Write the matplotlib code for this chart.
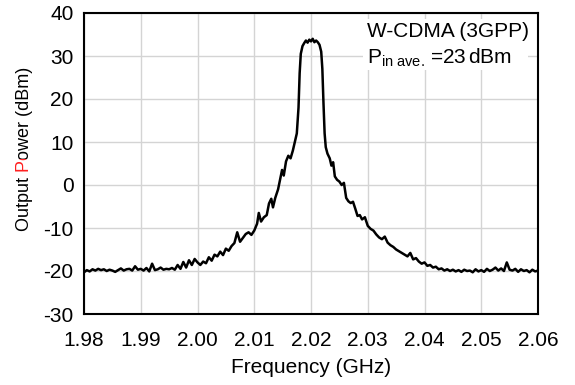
import matplotlib
matplotlib.use("Agg")
from matplotlib import pyplot as plt
from matplotlib.transforms import Bbox
from matplotlib.patches import Rectangle

plt.rcParams["font.family"] = ["Liberation Sans", "DejaVu Sans"]
plt.rcParams["axes.unicode_minus"] = False
plt.rcParams["mathtext.fontset"] = "custom"
plt.rcParams["mathtext.rm"] = "Liberation Sans"
plt.rcParams["mathtext.it"] = "Liberation Sans:italic"
plt.rcParams["mathtext.bf"] = "Liberation Sans:bold"

# spectrum
freq_ghz = [
    1.9800, 1.9805, 1.9810, 1.9815, 1.9820, 1.9825, 1.9830, 1.9835, 1.9840, 1.9845,
    1.9850, 1.9855, 1.9860, 1.9865, 1.9870, 1.9875, 1.9880, 1.9885, 1.9890, 1.9895,
    1.9900, 1.9905, 1.9910, 1.9915, 1.9920, 1.9925, 1.9930, 1.9935, 1.9940, 1.9945,
    1.9950, 1.9955, 1.9960, 1.9965, 1.9970, 1.9975, 1.9980, 1.9985, 1.9990, 1.9995,
    2.0000, 2.0005, 2.0010, 2.0015, 2.0020, 2.0025, 2.0030, 2.0035, 2.0040, 2.0045,
    2.0050, 2.0055, 2.0060, 2.0065, 2.0070, 2.0075, 2.0080, 2.0085, 2.0090, 2.0095,
    2.0100, 2.0105, 2.0108, 2.0112, 2.0117, 2.0122, 2.0126, 2.0130, 2.0133, 2.0137,
    2.0142, 2.0146, 2.0149, 2.0152, 2.0156, 2.0160, 2.0164, 2.0168, 2.0172, 2.0175,
    2.0178, 2.0180, 2.0182, 2.0185, 2.0188, 2.0191, 2.0194, 2.0197, 2.0200, 2.0203,
    2.0206, 2.0209, 2.0212, 2.0215, 2.0218, 2.0220, 2.0222, 2.0224, 2.0226, 2.0229,
    2.0233, 2.0236, 2.0239, 2.0242, 2.0246, 2.0250, 2.0254, 2.0258, 2.0262, 2.0266,
    2.0270, 2.0274, 2.0278, 2.0282, 2.0286, 2.0290, 2.0295, 2.0300, 2.0305, 2.0310,
    2.0315, 2.0320, 2.0325, 2.0330, 2.0335, 2.0340, 2.0345, 2.0350, 2.0355, 2.0360,
    2.0365, 2.0370, 2.0375, 2.0380, 2.0385, 2.0390, 2.0395, 2.0400, 2.0405, 2.0410,
    2.0415, 2.0420, 2.0425, 2.0430, 2.0435, 2.0440, 2.0445, 2.0450, 2.0455, 2.0460,
    2.0465, 2.0470, 2.0475, 2.0480, 2.0485, 2.0490, 2.0495, 2.0500, 2.0505, 2.0510,
    2.0515, 2.0520, 2.0525, 2.0530, 2.0535, 2.0540, 2.0545, 2.0550, 2.0555, 2.0560,
    2.0565, 2.0570, 2.0575, 2.0580, 2.0585, 2.0590, 2.0595, 2.0600,
]
power_dbm = [
    -20.3, -19.8, -20.1, -19.6, -19.9, -19.5, -19.8, -19.6, -20.0, -19.7,
    -19.9, -20.2, -19.8, -19.4, -19.9, -19.6, -19.5, -19.9, -18.9, -19.7,
    -19.5, -19.9, -19.3, -20.1, -18.3, -19.8, -19.6, -19.2, -19.7, -19.5,
    -19.6, -19.3, -19.7, -18.6, -19.5, -17.9, -19.2, -17.5, -18.6, -17.2,
    -18.0, -18.6, -17.8, -18.2, -16.8, -17.6, -16.2, -16.6, -15.5, -16.3,
    -14.8, -15.3, -14.2, -13.5, -11.0, -13.2, -12.3, -11.4, -11.0, -11.6,
    -10.6, -9.0, -6.5, -8.5, -7.5, -7.0, -4.3, -3.2, -5.2, -3.0,
    -1.0, 1.5, 3.5, 2.2, 5.5, 6.8, 6.2, 8.0, 10.3, 12.0,
    18.0, 26.0, 30.5, 32.3, 33.0, 33.6, 33.1, 33.8, 33.4, 34.0,
    33.2, 33.6, 33.2, 32.6, 31.0, 27.0, 19.0, 12.0, 8.8, 7.3,
    6.2, 4.5, 5.3, 2.0, 1.2, 0.8, 0.0, 0.5, -3.0, -3.8,
    -4.2, -3.9, -5.5, -7.2, -7.0, -8.0, -7.5, -9.5, -10.2, -10.6,
    -11.5, -12.2, -12.6, -12.0, -13.4, -14.0, -14.4, -15.0, -15.4, -15.8,
    -16.2, -16.6, -15.8, -17.3, -17.0, -17.8, -18.3, -18.0, -18.8, -18.6,
    -19.2, -19.0, -19.6, -19.4, -19.9, -19.6, -20.0, -19.7, -20.1, -19.8,
    -20.2, -19.7, -20.0, -19.9, -20.3, -19.6, -20.1, -19.8, -20.2, -19.5,
    -20.0, -19.7, -19.2, -19.9, -19.4, -20.0, -18.0, -19.7, -19.9, -19.5,
    -20.2, -19.6, -20.0, -19.8, -20.3, -19.7, -20.1, -19.9,
]

x_ticks = [1.98, 1.99, 2.00, 2.01, 2.02, 2.03, 2.04, 2.05, 2.06]
y_ticks = [-30, -20, -10, 0, 10, 20, 30, 40]

FS = 15
FS_YLAB = 13

fig = plt.figure(figsize=(5.75, 3.85), dpi=100, facecolor="white")
ax = fig.add_axes([84 / 575, 1 - 314 / 385, 454 / 575, 301 / 385])

ax.plot(freq_ghz, power_dbm, color="black", lw=1.8, zorder=3)
ax.set_xlim(1.98, 2.06)
ax.set_ylim(-30, 40)
ax.set_xticks(x_ticks)
ax.set_xticklabels([f"{t:.2f}" for t in x_ticks])
ax.set_yticks(y_ticks)
ax.set_axisbelow(True)
ax.grid(True, color="#d4d4d4", lw=1.0)
ax.tick_params(axis="both", length=0, labelsize=FS)
ax.tick_params(axis="x", pad=12)
ax.tick_params(axis="y", pad=7.5)
for sp in ax.spines.values():
    sp.set_linewidth(1.5)

# white box behind the annotation hides the grid
ax.add_patch(Rectangle((0.6145, 0.811), 0.3635, 0.169, transform=ax.transAxes,
                       facecolor="white", edgecolor="none", zorder=1))
fig.text(367 / 575, 1 - 37 / 385, "W-CDMA (3GPP)", fontsize=FS, va="baseline")
fig.text(367 / 575, 1 - 64 / 385,
         r"P$_{\mathregular{in\ ave.}}$$\,$=23$\,$dBm",
         fontsize=FS, va="baseline")

fig.text(311 / 575, 1 - 373 / 385, "Frequency (GHz)", fontsize=FS,
         ha="center", va="baseline")

# y label with a red "P": same string drawn three times, each clipped
label = "Output Power (dBm)"
lx, ly = 29.5 / 575, 1 - 148.5 / 385
parts = []
for col in ("black", "#ff2020", "black"):
    t = fig.text(lx, ly, label, fontsize=FS_YLAB, rotation=90,
                 rotation_mode="anchor", ha="center", va="baseline", color=col)
    parts.append(t)

fig.canvas.draw()
renderer = fig.canvas.get_renderer()
full = parts[0].get_window_extent(renderer)


def text_width(s):
    tmp = fig.text(0, 0, s, fontsize=FS_YLAB)
    w = tmp.get_window_extent(renderer).width
    tmp.remove()
    return w


w_pre = text_width("Output")
w_p = text_width("Output P")
cut1 = full.y0 + w_pre + 2.5
cut2 = full.y0 + w_p + 0.7
x0, x1 = full.x0 - 5, full.x1 + 5
parts[0].set_clip_box(Bbox([[x0, full.y0 - 5], [x1, cut1]]))
parts[1].set_clip_box(Bbox([[x0, cut1], [x1, cut2]]))
parts[2].set_clip_box(Bbox([[x0, cut2], [x1, full.y1 + 5]]))

fig.savefig("out.png", dpi=100)
